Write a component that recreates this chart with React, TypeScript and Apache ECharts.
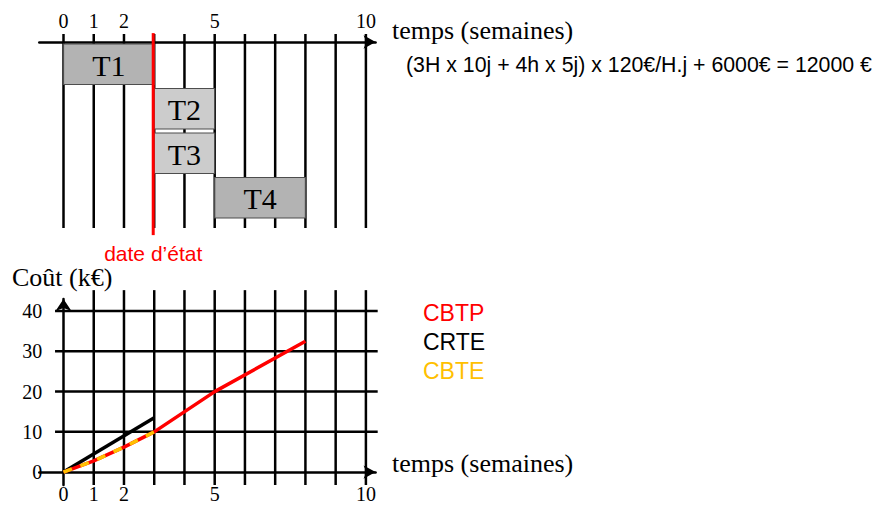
import React, { useEffect, useRef } from "react";
import * as echarts from "echarts";

// ---------- data ----------
const weeks = [0, 1, 2, 3, 4, 5, 6, 7, 8, 9, 10];
const weekTickLabels = [0, 1, 2, 5, 10];
const costTickLabels = [0, 10, 20, 30, 40];
const costGridLevels = [10, 20, 30, 40];

const taskNames = ["T1", "T2", "T3", "T4"];
const taskStart = [0, 3, 3, 5];
const taskEnd = [3, 5, 5, 8];
const taskRow = [0, 1, 2, 3];

const dateEtat = 3;

const cbtpWeeks = [0, 1, 2, 3, 5, 8];
const cbtpCost = [0, 2.8, 6.2, 10, 20, 32.5];
const crteWeeks = [0, 3];
const crteCost = [0, 13.5];
const cbteWeeks = [0, 1, 2, 3];
const cbteCost = [0, 2.8, 6.2, 10];

const formulaText = "(3H x 10j + 4h x 5j) x 120€/H.j + 6000€ = 12000 €";

// ---------- styling ----------
const SERIF = '"Liberation Serif", "Times New Roman", serif';
const SANS = '"Liberation Sans", Arial, sans-serif';
const TASK_FILLS = ["#b3b3b3", "#cccccc", "#cccccc", "#b3b3b3"];
const RED = "#ff0000";
const ORANGE = "#ffc000";

const X_MIN = -0.8;
const X_MAX = 10.32;
const PX_PER_WEEK = 30.24;
const GRID_LEFT = 63.5 + X_MIN * PX_PER_WEEK;
const GRID_WIDTH = (X_MAX - X_MIN) * PX_PER_WEEK;

// top chart (rows)
const TOP_Y_MIN = -0.18;
const TOP_Y_MAX = 4.18;
// bottom chart (k€)
const BOT_Y_MIN = -3.2;
const BOT_Y_MAX = 43.0;

function buildOption(): any {
  const lineStyle = { color: "#000", width: 2.5 };
  return {
    animation: false,
    backgroundColor: "#ffffff",
    grid: [
      { left: GRID_LEFT, width: GRID_WIDTH, top: 34, height: 194, containLabel: false, outerBoundsMode: "none" },
      { left: GRID_LEFT, width: GRID_WIDTH, top: 299, height: 186, containLabel: false, outerBoundsMode: "none" },
    ],
    xAxis: [
      {
        gridIndex: 0,
        type: "value",
        position: "top",
        min: X_MIN,
        max: X_MAX,
        axisLine: {
          show: true,
          onZero: true,
          lineStyle,
          symbol: ["none", "arrow"],
          symbolSize: [10, 12],
        },
        axisTick: { show: false },
        splitLine: { show: false },
        axisLabel: {
          customValues: weekTickLabels,
          margin: 3,
          fontFamily: SERIF,
          fontSize: 20,
          color: "#000",
        },
      },
      {
        gridIndex: 1,
        type: "value",
        position: "bottom",
        min: X_MIN,
        max: X_MAX,
        axisLine: {
          show: true,
          onZero: true,
          lineStyle,
          symbol: ["none", "arrow"],
          symbolSize: [10, 12],
        },
        axisTick: { show: false },
        splitLine: { show: false },
        axisLabel: {
          customValues: weekTickLabels,
          margin: -1,
          fontFamily: SERIF,
          fontSize: 20,
          lineHeight: 20,
          color: "#000",
        },
      },
    ],
    yAxis: [
      {
        gridIndex: 0,
        type: "value",
        inverse: true,
        min: TOP_Y_MIN,
        max: TOP_Y_MAX,
        axisLine: { show: false },
        axisTick: { show: false },
        axisLabel: { show: false },
        splitLine: { show: false },
      },
      {
        gridIndex: 1,
        type: "value",
        min: BOT_Y_MIN,
        max: BOT_Y_MAX,
        axisLine: {
          show: true,
          onZero: true,
          lineStyle,
          symbol: ["none", "arrow"],
          symbolSize: [12, 12],
        },
        axisTick: { show: false },
        splitLine: { show: false },
        axisLabel: {
          customValues: costTickLabels,
          margin: -3,
          fontFamily: SERIF,
          fontSize: 20,
          color: "#000",
        },
      },
    ],
    legend: {
      data: [
        { name: "CBTP", textStyle: { color: RED } },
        { name: "CRTE", textStyle: { color: "#000" } },
        { name: "CBTE", textStyle: { color: ORANGE } },
      ],
      orient: "vertical",
      left: 418,
      top: 298.5,
      icon: "none",
      itemWidth: 0,
      itemHeight: 29,
      itemGap: 0,
      padding: 0,
      selectedMode: false,
      textStyle: { fontFamily: SANS, fontSize: 23, lineHeight: 29 },
    },
    graphic: [
      {
        type: "text",
        x: 392,
        y: 30,
        style: { text: "temps (semaines)", font: `26px ${SERIF}`, fill: "#000", verticalAlign: "middle" },
      },
      {
        type: "text",
        x: 406,
        y: 65,
        style: { text: formulaText, font: `21.3px ${SANS}`, fill: "#000", verticalAlign: "middle" },
      },
      {
        type: "text",
        x: 392,
        y: 463,
        style: { text: "temps (semaines)", font: `26px ${SERIF}`, fill: "#000", verticalAlign: "middle" },
      },
      {
        type: "text",
        x: 12,
        y: 277,
        style: { text: "Coût (k€)", font: `26px ${SERIF}`, fill: "#000", verticalAlign: "middle" },
      },
    ],
    series: [
      // top lattice: vertical week lines
      {
        type: "custom",
        xAxisIndex: 0,
        yAxisIndex: 0,
        silent: true,
        clip: false,
        data: weeks.map((w) => [w]),
        renderItem: (_p: any, api: any) => {
          const a = api.coord([api.value(0), TOP_Y_MIN]);
          const b = api.coord([api.value(0), TOP_Y_MAX]);
          return {
            type: "line",
            shape: { x1: a[0], y1: a[1], x2: b[0], y2: b[1] },
            style: { stroke: "#000", lineWidth: 2.5 },
          };
        },
      },
      // tasks (Gantt)
      {
        type: "custom",
        xAxisIndex: 0,
        yAxisIndex: 0,
        silent: true,
        clip: false,
        data: taskNames.map((n, i) => ({ name: n, value: [taskStart[i], taskEnd[i], taskRow[i]] })),
        renderItem: (params: any, api: any) => {
          const row = api.value(2) + 0.5;
          const s = api.coord([api.value(0), row]);
          const e = api.coord([api.value(1), row]);
          const h = api.size([0, 0.91])[1];
          const i = params.dataIndex;
          return {
            type: "group",
            children: [
              {
                type: "rect",
                shape: { x: s[0], y: s[1] - h / 2, width: e[0] - s[0], height: h },
                style: { fill: TASK_FILLS[i], stroke: "#4d4d4d", lineWidth: 1.2 },
              },
              {
                type: "text",
                style: {
                  text: taskNames[i],
                  x: (s[0] + e[0]) / 2,
                  y: s[1] + 1,
                  align: "center",
                  verticalAlign: "middle",
                  font: `30px ${SERIF}`,
                  fill: "#000",
                },
              },
            ],
          };
        },
      },
      // date d'état
      {
        type: "custom",
        xAxisIndex: 0,
        yAxisIndex: 0,
        silent: true,
        clip: false,
        data: [[dateEtat]],
        renderItem: (_p: any, api: any) => {
          const a = api.coord([api.value(0), -0.2]);
          const b = api.coord([api.value(0), 4.34]);
          return {
            type: "group",
            children: [
              {
                type: "line",
                shape: { x1: a[0] - 1, y1: a[1], x2: b[0] - 1, y2: b[1] },
                style: { stroke: RED, lineWidth: 3 },
              },
              {
                type: "text",
                style: {
                  text: "date d’état",
                  x: b[0] - 1,
                  y: b[1] + 18,
                  align: "center",
                  verticalAlign: "middle",
                  font: `21px ${SANS}`,
                  fill: RED,
                },
              },
            ],
          };
        },
      },
      // bottom lattice: vertical week lines
      {
        type: "custom",
        xAxisIndex: 1,
        yAxisIndex: 1,
        silent: true,
        clip: false,
        data: weeks.filter((w) => w !== 0).map((w) => [w]),
        renderItem: (_p: any, api: any) => {
          const a = api.coord([api.value(0), BOT_Y_MIN]);
          const b = api.coord([api.value(0), 45.2]);
          return {
            type: "line",
            shape: { x1: a[0], y1: a[1], x2: b[0], y2: b[1] },
            style: { stroke: "#000", lineWidth: 2.5 },
          };
        },
      },
      // bottom lattice: horizontal cost lines
      {
        type: "custom",
        xAxisIndex: 1,
        yAxisIndex: 1,
        silent: true,
        clip: false,
        data: costGridLevels.map((c) => [c]),
        renderItem: (_p: any, api: any) => {
          const a = api.coord([-0.28, api.value(0)]);
          const b = api.coord([10.39, api.value(0)]);
          return {
            type: "line",
            shape: { x1: a[0], y1: a[1], x2: b[0], y2: b[1] },
            style: { stroke: "#000", lineWidth: 2.5 },
          };
        },
      },
      {
        name: "CRTE",
        type: "line",
        xAxisIndex: 1,
        yAxisIndex: 1,
        symbol: "none",
        color: "#000",
        lineStyle: { color: "#000", width: 3.5 },
        data: crteWeeks.map((w, i) => [w, crteCost[i]]),
      },
      {
        name: "CBTP",
        type: "line",
        xAxisIndex: 1,
        yAxisIndex: 1,
        symbol: "none",
        color: RED,
        lineStyle: { color: RED, width: 3.5 },
        data: cbtpWeeks.map((w, i) => [w, cbtpCost[i]]),
      },
      {
        name: "CBTE",
        type: "line",
        xAxisIndex: 1,
        yAxisIndex: 1,
        symbol: "none",
        color: ORANGE,
        lineStyle: { color: ORANGE, width: 3.5, type: [9, 9] },
        data: cbteWeeks.map((w, i) => [w, cbteCost[i]]),
      },
    ],
  };
}

export default function App() {
  const ref = useRef<HTMLDivElement>(null);
  useEffect(() => {
    if (!ref.current) return;
    const chart = echarts.init(ref.current, undefined, { renderer: "svg" });
    chart.setOption(buildOption());
    return () => chart.dispose();
  }, []);
  return (
    <div
      ref={ref}
      style={{ position: "absolute", left: 0, top: 0, width: 876, height: 505 }}
    />
  );
}
